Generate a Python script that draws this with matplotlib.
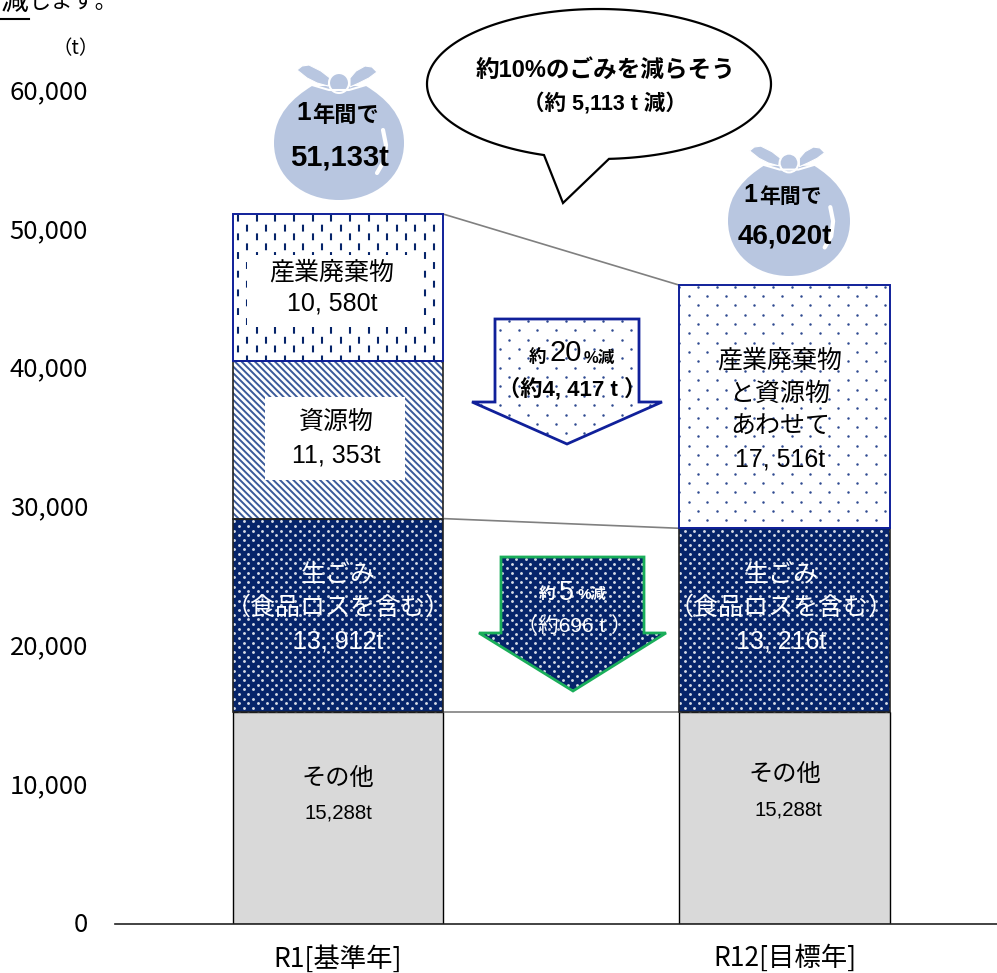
import matplotlib
matplotlib.use('Agg')
import matplotlib.pyplot as plt
from matplotlib.patches import Polygon, PathPatch, Circle, Rectangle
from matplotlib.path import Path
from matplotlib.transforms import ScaledTranslation
import numpy as np

plt.rcParams['font.family'] = ['Liberation Sans', 'Noto Sans CJK JP', 'DejaVu Sans']
plt.rcParams['hatch.linewidth'] = 1.4

categories = ['R1[基準年]', 'R12[目標年]']
other = [15288, 15288]
food = [13912, 13216]
resource = [11353, 0]
industrial = [10580, 0]
combined = [0, 17516]
y_ticks = [0, 10000, 20000, 30000, 40000, 50000, 60000]

NAVY = '#06246A'
BLUE = '#10209A'
BAG = '#B8C6E0'
NOTO = ['Noto Sans CJK JP', 'DejaVu Sans']
W, H = 997, 973
BAR_W = 0.472

fig = plt.figure(figsize=(W/100, H/100), dpi=100)
ax = fig.add_axes([115/W, (H-924)/H, (W-115)/W, (924-91)/H])
ax.set_ylim(0, 60000)
ax.set_xlim((115-338)/446.5, (997-338)/446.5)
x = np.arange(2)

b0 = np.array(other)
ax.bar(x, other, BAR_W, color='#D9D9D9', edgecolor='black', linewidth=1)

b1 = b0 + np.array(food)
food_bars = ax.bar(x, food, BAR_W, bottom=b0, color=NAVY, linewidth=0)

b2 = b1 + np.array(resource)
ax.bar(x[:1], resource[:1], BAR_W, bottom=b1[:1], facecolor='white', edgecolor='#3A5A9A', hatch='\\\\\\\\\\', linewidth=0)

b3 = b2 + np.array(industrial)
ind_bar = ax.bar(x[:1], industrial[:1], BAR_W, bottom=b2[:1], color='white', linewidth=0)
comb_bar = ax.bar(x[1:], combined[1:], BAR_W, bottom=b1[1:], color='white', linewidth=0)

# connectors between the two bars
tops = [(b1[0], b1[1]), (b0[0], b0[1]), (b3[0], b1[1] + combined[1])]
for t in tops:
    ax.plot([BAR_W/2, 1-BAR_W/2], t, color='#808080', lw=1.2)

for s in ['top', 'left', 'right']:
    ax.spines[s].set_visible(False)
ax.spines['bottom'].set_color('#222222')
ax.spines['bottom'].set_linewidth(1.2)
ax.set_yticks(y_ticks)
ax.set_yticklabels(['{:,}'.format(v) for v in y_ticks], fontsize=18.5, family=NOTO)
ax.set_xticks(x)
ax.set_xticklabels(categories, fontsize=19, family=NOTO)
ax.tick_params(length=0)
ax.tick_params(axis='x', pad=15)
ax.tick_params(axis='y', pad=19.3)
for lab in ax.get_yticklabels():
    lab.set_transform(lab.get_transform() + ScaledTranslation(0, 2/100, fig.dpi_scale_trans))

# pixel overlay for pattern fills and callouts
ov = fig.add_axes([0, 0, 1, 1], zorder=5)
ov.set_xlim(0, W)
ov.set_ylim(H, 0)
ov.axis('off')
ov.patch.set_alpha(0)


def label(px, py, s, size=18, color='black', weight='normal', ha='center', family=None):
    ov.text(px, py, s, fontsize=size, color=color, weight=weight, ha=ha, va='center',
            family=family)


def dots(patch, x0, x1, y0, y1, dx, dy, color, s=3.2, alpha=1):
    # staggered dot fill clipped to a shape
    px, py = [], []
    for i, yy in enumerate(np.arange(y0, y1, dy)):
        xs = np.arange(x0 + (i % 2)*dx/2, x1, dx)
        px.extend(xs)
        py.extend([yy]*len(xs))
    sc = ov.scatter(px, py, s=s, color=color, linewidths=0, alpha=alpha)
    sc.set_clip_path(patch)


dots(food_bars[0], 225, 444, 521.3, 714, 9.33, 4.67, 'white', 4.2, 0.85)
dots(food_bars[1], 671, 891, 526, 714, 9.33, 4.67, 'white', 4.2, 0.85)
dots(comb_bar[0], 679.3, 891, 286.65, 530, 18.7, 9.35, '#2F4A90')

# dashed pattern of the industrial waste block
for i, cx in enumerate(np.arange(238, 443, 9.33)):
    line, = ov.plot([cx, cx], [215 + (i % 2)*9.3 - 18.7, 365], color=NAVY, lw=1.5,
                    dashes=(3.3, 5.67))
    line.set_clip_path(ind_bar[0])

ov.add_patch(Rectangle((247, 255), 170, 72, fc='white', ec='none', zorder=2.5))
ov.add_patch(Rectangle((265, 397), 140, 83, fc='white', ec='none', zorder=2.5))

# bar borders, on top of the fills
for b, col in [(food_bars[0], '#222222'), (food_bars[1], '#222222')]:
    ov.add_patch(Rectangle((b.get_x(), b.get_y()), b.get_width(), b.get_height(),
                           transform=ax.transData, fill=False, ec=col, lw=1.2, zorder=2.6))
ax.bar(x[:1], resource[:1], BAR_W, bottom=b1[:1], fill=False, edgecolor='#222222', linewidth=1.2)
for b in [ind_bar[0], comb_bar[0]]:
    ov.add_patch(Rectangle((b.get_x(), b.get_y()), b.get_width(), b.get_height(),
                           transform=ax.transData, fill=False, ec=BLUE, lw=1.4, zorder=2.6))

label(332, 272, '産業廃棄物')
label(332, 304, '10, 580t')
label(336, 422, '資源物')
label(336, 455, '11, 353t')
for cx, v in [(338, '13, 912t'), (781, '13, 216t')]:
    label(cx, 575, '生ごみ', color='white')
    label(cx, 608, '（食品ロスを含む）', color='white')
    label(cx, 641, v, color='white')
label(338, 779, 'その他', 17.5)
label(338, 813, '15,288t', 14.7)
label(785, 775, 'その他', 17.5)
label(788, 810, '15,288t', 14.7)
label(780, 360, '産業廃棄物')
label(780, 394, 'と資源物')
label(780, 427, 'あわせて')
label(780, 459, '17, 516t')


def arrow(l, r, top, neck, hl, hr, tipx, tipy, face, edge, dot_col, dx, dy, s, alpha):
    pts = [(l, top), (r, top), (r, neck), (hr, neck), (tipx, tipy), (hl, neck), (l, neck)]
    p = Polygon(pts, closed=True, fc=face, ec='none')
    ov.add_patch(p)
    dots(p, hl, hr, top + 2, tipy, dx, dy, dot_col, s, alpha)
    ov.add_patch(Polygon(pts, closed=True, fill=False, ec=edge, lw=2))


arrow(495, 639, 319, 402, 472, 662, 567, 444, 'white', BLUE, '#2F4A90', 18.7, 9.35, 3.2, 1)
arrow(501, 644, 557, 633, 479, 666, 573, 691, NAVY, '#1AAE5A', 'white', 9.33, 4.67, 4.2, 0.85)

label(537, 357, '約', 12.5, weight='bold')
label(566, 353, '20', 21)
label(599, 358, '%減', 12, weight='bold')
label(572, 389, '（約4, 417 t ）', 16, weight='bold')
label(547, 595, '約', 12, 'white', 'bold')
label(566, 593, '5', 19.5, 'white')
label(592, 595, '%減', 11, 'white', 'bold')
label(574, 626, '（約696 t ）', 15, 'white')

# speech bubble, ellipse outline with the tail cut in
cx_b, cy_b, a_b, b_b = 599, 84, 172, 75
t0 = np.arccos((544 - cx_b)/a_b)
t1 = 2*np.pi + np.arccos((609 - cx_b)/a_b)
tt = np.linspace(t0, t1, 200)
pts_b = np.column_stack([cx_b + a_b*np.cos(tt), cy_b + b_b*np.sin(tt)])
pts_b = np.vstack([pts_b, [563, 203]])
ov.add_patch(Polygon(pts_b, closed=True, fc='white', ec='black', lw=1.6))
label(606, 70, '約10%のごみを減らそう', 17, weight='bold')
label(605, 104, '（約 5,113 t 減）', 15.5, weight='bold')


def bag(cx, ky, w, bot):
    # cx, ky: centre of the knot; w: body width; bot: bottom of the body
    u = w/130
    wd = w/2
    bt = ky + 3*u
    midy = bt + 0.5*(bot - bt)
    verts = [(cx - 27*u, bt), (cx - 0.7*wd, bt + 0.2*(midy-bt)), (cx - wd, midy - 0.5*(midy-bt)), (cx - wd, midy),
             (cx - wd, midy + 0.6*(bot-midy)), (cx - 0.55*wd, bot), (cx, bot),
             (cx + 0.55*wd, bot), (cx + wd, midy + 0.6*(bot-midy)), (cx + wd, midy),
             (cx + wd, midy - 0.5*(midy-bt)), (cx + 0.7*wd, bt + 0.2*(midy-bt)), (cx + 27*u, bt),
             (cx - 27*u, bt)]
    codes = [Path.MOVETO] + [Path.CURVE4]*12 + [Path.CLOSEPOLY]
    ov.add_patch(PathPatch(Path(verts, codes), fc=BAG, ec='none'))
    ov.plot([cx - 27*u, cx - 10*u, cx + 10*u, cx + 27*u],
            [bt - 1*u, bt + 4*u, bt + 4*u, bt - 1*u], color='white', lw=1.5)
    left = [(-42, -13), (-37, -17), (-30, -18), (-18, -12), (-9, -5), (-11, 3), (-22, 0), (-32, -5)]
    right = [(38, -11), (33, -16), (26, -17), (17, -12), (11, -5), (11, 4), (20, 0), (30, -5)]
    for tie in (left, right):
        ov.add_patch(Polygon([(cx + a*u, ky + c*u) for a, c in tie], closed=True, fc=BAG, ec='white', lw=0.8))
    ov.add_patch(Circle((cx, ky), 10*u, fc=BAG, ec='white', lw=1.5))
    ov.plot([cx + 44*u, cx + 47*u, cx + 45*u, cx + 38*u],
            [ky + 47*u, ky + 62*u, ky + 78*u, ky + 90*u],
            color='white', lw=3, solid_capstyle='round')


bag(339, 83, 130, 200)
bag(789, 163, 122, 276)
label(304, 113, '1', 19, weight='bold')
label(346, 116, '年間で', 16, weight='bold')
label(339, 157, '51,133t', 21, weight='bold')
label(750, 195, '1', 18, weight='bold')
label(791, 197, '年間で', 15, weight='bold')
label(785, 237, '46,020t', 20, weight='bold')

# text cut off at the top of the picture
label(15, 2, '減', 20, family=NOTO)
label(29, 2, 'します。', 16, ha='left', family=NOTO)
ov.plot([0, 29], [18.5, 18.5], color='black', lw=1.5)
label(76, 49, '（t）', 14, family=NOTO)

fig.savefig('out.png', dpi=100)
